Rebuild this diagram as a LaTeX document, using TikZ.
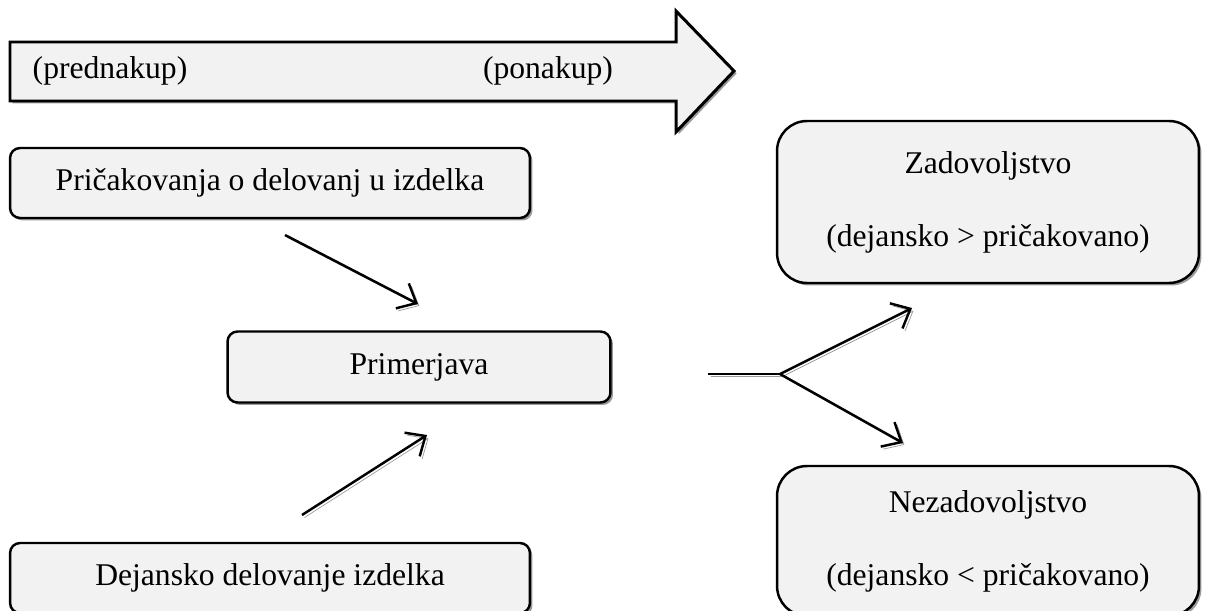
\documentclass[tikz,border=0pt]{standalone}
\usepackage{fontspec}
\setmainfont{Liberation Serif}
\usetikzlibrary{positioning,arrows.meta,shadows}
\definecolor{boxfill}{HTML}{F2F2F2}
\definecolor{shadowgray}{HTML}{9A9A9A}

\begin{document}
\begin{tikzpicture}[x=0.02cm,y=-0.02cm,
      font=\fontsize{18}{21.6}\selectfont,
      shd/.style={drop shadow={shadow xshift=0.05cm,shadow yshift=-0.05cm,fill=shadowgray,opacity=1}},
      box/.style={draw,line width=1.4pt,fill=boxfill,rounded corners=0.2cm,shd,inner sep=0pt},
      bigbox/.style={box,rounded corners=0.6cm,align=center},
      arr/.style={-{Straight Barb[length=9pt,width=16pt]},line width=1.4pt,
        preaction={draw=shadowgray,transform canvas={shift={(0.05cm,-0.05cm)}}}}]
    \useasboundingbox (0,0) rectangle (1206,611);
    % time arrow
    \draw[line width=1.7pt,fill=boxfill,shd]
      (10,42) -- (676,42) -- (676,11) -- (734,71) -- (676,132) -- (676,101) -- (10,101) -- cycle;
    \node (pred) at (110,71) {(prednakup)};
    \node (pona) at (548,71) {(ponakup)};
    % left column
    \node[box,minimum width=10.4cm,minimum height=1.4cm] (ocek) at (270,183)
      {Pričakovanja o delovanj u izdelka};
    \node[box,minimum width=7.66cm,minimum height=1.42cm] (prim) at (419,367) {Primerjava};
    \node[box,minimum width=10.4cm,minimum height=1.4cm] (dej) at (270,578)
      {Dejansko delovanje izdelka};
    % right column
    \node[bigbox,minimum width=8.44cm,minimum height=3.24cm] (zad) at (988,202)
      {Zadovoljstvo\\[20pt](dejansko > pričakovano)};
    \node[bigbox,minimum width=8.44cm,minimum height=3.0cm] (nezad) at (988,541)
      {Nezadovoljstvo\\[20pt](dejansko < pričakovano)};
    % connectors
    \coordinate (a1s) at (285,235);
    \coordinate (a1e) at (418,304);
    \coordinate (a2s) at (302,515);
    \coordinate (a2e) at (427,435);
    \coordinate (fs) at (708,374);
    \coordinate (fj) at (780,374);
    \coordinate (fz) at (912,308);
    \coordinate (fn) at (903,443);
    \draw[arr] (a1s) -- (a1e);
    \draw[arr] (a2s) -- (a2e);
    \draw[line width=1.4pt,preaction={draw=shadowgray,transform canvas={shift={(0.05cm,-0.05cm)}}}]
      (fs) -- (fj);
    \draw[arr] (fj) -- (fz);
    \draw[arr] (fj) -- (fn);
  \end{tikzpicture}
\end{document}
